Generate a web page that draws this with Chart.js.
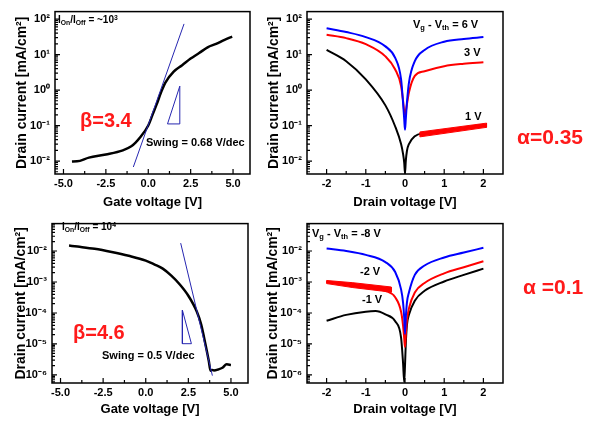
<!DOCTYPE html>
<html><head><meta charset="utf-8">
<script src="https://cdn.jsdelivr.net/npm/chart.js@4.4.1/dist/chart.umd.min.js"></script>
<style>
html,body{margin:0;padding:0;background:#fff;}
#wrap{position:relative;width:600px;height:424px;overflow:hidden;background:#fff;font-family:"Liberation Sans",Arial,sans-serif;font-weight:bold;}
canvas{position:absolute;}
.t{position:absolute;white-space:nowrap;line-height:1;color:#000;}
.t sub{font-size:0.68em;vertical-align:-0.3em;line-height:0;}
.t sup{font-size:0.68em;vertical-align:0.45em;line-height:0;}
.red{color:#ff1a1a;}
</style></head><body>
<div id="wrap">
<canvas id="cTL" width="260" height="212" style="left:0;top:0"></canvas>
<canvas id="cTR" width="260" height="212" style="left:260px;top:0"></canvas>
<canvas id="cBL" width="260" height="212" style="left:0;top:212px"></canvas>
<canvas id="cBR" width="260" height="212" style="left:260px;top:212px"></canvas>

<div class="t" style="left:58px;top:15px;font-size:10px;">I<sub>On</sub>/I<sub>Off</sub> = ~10<sup>3</sup></div>
<div class="t red" style="left:80px;top:110px;font-size:20px;">β=3.4</div>
<div class="t" style="left:146px;top:137px;font-size:11px;">Swing = 0.68 V/dec</div>

<div class="t" style="left:413px;top:19px;font-size:11px;">V<sub>g</sub> - V<sub>th</sub> = 6 V</div>
<div class="t" style="left:464px;top:47px;font-size:11px;">3 V</div>
<div class="t" style="left:465px;top:111px;font-size:11px;">1 V</div>
<div class="t red" style="left:517px;top:126px;font-size:21px;">α=0.35</div>

<div class="t" style="left:62px;top:222px;font-size:10px;">I<sub>On</sub>/I<sub>Off</sub> = 10<sup>4</sup></div>
<div class="t red" style="left:73px;top:322px;font-size:20px;">β=4.6</div>
<div class="t" style="left:102px;top:350px;font-size:11px;">Swing = 0.5 V/dec</div>

<div class="t" style="left:312px;top:228px;font-size:11px;">V<sub>g</sub> - V<sub>th</sub> = -8 V</div>
<div class="t" style="left:360px;top:266px;font-size:11px;">-2 V</div>
<div class="t" style="left:362px;top:294px;font-size:11px;">-1 V</div>
<div class="t red" style="left:523px;top:276px;font-size:21px;">α =0.1</div>
</div>
<script>
// ---------- Data ----------
// Top-left: transfer curve
const tlGateV   = [-4.5,-4.2,-3.5,-2.5,-1.5,-1.0,-0.75,-0.5,0,0.25,0.5,0.75,1.0,1.5,2.0,2.5,3.0,3.5,4.0,4.5,4.95];
const tlCurrent = [0.0097,0.0098,0.0125,0.0153,0.02,0.026,0.033,0.045,0.1,0.2,0.4,0.85,1.6,3.3,5.0,7.7,11,16,20,26,32];
const tlFitV    = [-0.88, 2.11];
const tlFitI    = [0.0068, 73];
const tlTriV    = [1.135, 1.86, 1.86, 1.135];
const tlTriI    = [0.111, 0.111, 1.29, 0.111];

// Top-right: output curves
const trDrainV  = [-2,-1.5,-1,-0.5,-0.25,-0.1,-0.05,-0.02,0,0.02,0.05,0.1,0.25,0.5,1,1.5,2];
const tr6V      = [55,43,31,17,8,2,0.45,0.15,0.076,0.15,0.45,1.6,6.5,13.5,23,27.5,31];
const tr3V      = [36,29,19.6,8.9,3.8,1.3,0.5,0.25,0.2,0.25,0.4,0.85,2.5,3.4,4.7,5.5,6.1];
const tr1V      = [13.5,6.5,2.0,0.37,0.094,0.03,0.016,0.009,0.0045,0.01,0.0195,0.03,0.05,0.062,0.073,0.087,0.105];
const trBandV   = [0.38, 2.08, 2.08, 0.38, 0.38];
const trBandI   = [0.066, 0.117, 0.089, 0.048, 0.066];

// Bottom-left: transfer curve
const blGateV   = [-4.5,-4,-3,-2,-1,0,0.5,1,1.5,2,2.5,3,3.25,3.5,3.7,3.8,3.9,4.0,4.25,4.5,4.75,5.0];
const blCurrent = [0.015,0.0139,0.0118,0.0093,0.007,0.0049,0.0037,0.0027,0.0016,0.00083,0.00036,0.00011,4.3e-5,1.0e-5,2.8e-6,1.36e-6,1.45e-6,1.4e-6,1.5e-6,1.7e-6,2.2e-6,2.1e-6];
const blFitV    = [2.05, 3.91];
const blFitI    = [0.018, 9.5e-7];
const blTriV    = [2.15, 2.15, 2.68, 2.15];
const blTriI    = [1.24e-4, 1.02e-5, 1.02e-5, 1.24e-4];

// Bottom-right: output curves
const brDrainV  = [-2,-1.5,-1,-0.5,-0.25,-0.1,-0.05,-0.02,0,0.02,0.05,0.1,0.25,0.5,1,1.5,2];
const brM8V     = [0.012,0.01,0.0075,0.0044,0.0021,0.00058,0.00022,0.00007,0.000021,0.00007,0.00022,0.00046,0.0017,0.0034,0.0062,0.0089,0.0127];
const brM2V     = [0.001,0.00088,0.00074,0.00052,0.00032,0.00011,0.00004,0.000015,0.000008,0.00002,0.00006,0.00014,0.00046,0.00093,0.0019,0.003,0.0047];
const brM1DrainV= [-2,-1.5,-1,-0.75,-0.5,-0.25,-0.1,-0.05,-0.02,0,0.02,0.05,0.1,0.25,0.5,1,1.5,2];
const brM1V     = [5.6e-5,8.7e-5,1.1e-4,1.15e-4,9e-5,5.4e-5,1.6e-5,2.5e-6,5.9e-7,2e-6,1e-5,4.2e-5,8.7e-5,2.5e-4,5.2e-4,1.04e-3,1.7e-3,2.7e-3];
const brBandV   = [-2, -1.33, -0.35, -0.35, -1.33, -2, -2];
const brBandI   = [1.12e-3, 9.5e-4, 6.9e-4, 4.7e-4, 6.6e-4, 8.9e-4, 1.12e-3];

// Ticks
const gateTicks      = [-5, -2.5, 0, 2.5, 5];
const gateTickLabels = ['-5.0', '-2.5', '0.0', '2.5', '5.0'];
const drainTicks      = [-2, -1, 0, 1, 2];
const drainTickLabels = ['-2', '-1', '0', '1', '2'];
const topYTicks      = [1e-2, 1e-1, 1, 10, 100];
const topYTickLabels = ['10⁻²', '10⁻¹', '10⁰', '10¹', '10²'];
const botYTicks      = [1e-6, 1e-5, 1e-4, 1e-3, 1e-2];
const botYTickLabels = ['10⁻⁶', '10⁻⁵', '10⁻⁴', '10⁻³', '10⁻²'];

// ---------- Rendering ----------
const FONT = '"Liberation Sans", Arial, sans-serif';
function xy(xs, ys){ return xs.map((x,i)=>({x:x, y:ys[i]})); }
function line(xs, ys, color, width, extra){
  return Object.assign({data: xy(xs, ys), borderColor: color, backgroundColor: color,
    borderWidth: width, pointRadius: 0, fill: false, tension: 0}, extra || {});
}

const framePlugin = {
  id: 'frame',
  afterDraw(chart){
    const ctx = chart.ctx, a = chart.chartArea, x = chart.scales.x, y = chart.scales.y;
    ctx.save();
    ctx.strokeStyle = '#000';
    ctx.lineWidth = 1.2;
    ctx.beginPath();
    const xt = x.ticks.map(t=>t.value);
    const xm = [];
    for (let i=0;i<xt.length-1;i++) xm.push((xt[i]+xt[i+1])/2);
    xt.forEach(v=>{const p=x.getPixelForValue(v); ctx.moveTo(p,a.bottom); ctx.lineTo(p,a.bottom-5);});
    xm.forEach(v=>{const p=x.getPixelForValue(v); ctx.moveTo(p,a.bottom); ctx.lineTo(p,a.bottom-3);});
    const yt = y.ticks.map(t=>t.value);
    yt.forEach(v=>{const p=y.getPixelForValue(v); ctx.moveTo(a.left,p); ctx.lineTo(a.left+5,p);});
    const d0 = yt[0]/10, d1 = yt[yt.length-1];
    for (let d=d0; d<=d1*1.0001; d*=10){
      for (let m=2;m<=9;m++){
        const v = d*m;
        if (v>y.min && v<y.max){ const p=y.getPixelForValue(v); ctx.moveTo(a.left,p); ctx.lineTo(a.left+3,p); }
      }
    }
    ctx.stroke();
    ctx.lineWidth = 1.5;
    ctx.strokeRect(a.left, a.top, a.right-a.left, a.bottom-a.top);
    ctx.restore();
  }
};

function buildChart(id, o){
  return new Chart(document.getElementById(id), {
    type: 'line',
    data: {datasets: o.datasets},
    options: {
      responsive: false, animation: false, devicePixelRatio: 1,
      layout: {padding: o.pad},
      plugins: {legend: {display: false}, tooltip: {enabled: false}},
      elements: {point: {radius: 0}},
      scales: {
        x: {
          type: 'linear', min: o.xMin, max: o.xMax,
          afterBuildTicks: s=>{ s.ticks = o.xTicks.map(v=>({value:v})); },
          afterFit: s=>{ s.height = o.xH; },
          grid: {display: false, drawTicks: false, tickLength: 0}, border: {display: false},
          ticks: {font: {family: FONT, size: 11, weight: 'bold'}, color: '#000', padding: 3,
                  maxRotation: 0, autoSkip: false, callback: (v,i)=>o.xLabels[i]},
          title: {display: true, text: o.xTitle, color: '#000',
                  font: {family: FONT, size: 13, weight: 'bold'}, padding: {top: 0, bottom: o.xTitlePad}}
        },
        y: {
          type: 'logarithmic', min: o.yMin, max: o.yMax,
          afterBuildTicks: s=>{ s.ticks = o.yTicks.map(v=>({value:v})); },
          afterFit: s=>{ s.width = o.yW; },
          grid: {display: false, drawTicks: false, tickLength: 0}, border: {display: false},
          ticks: {font: {family: FONT, size: 11, weight: 'bold'}, color: '#000', padding: 5,
                  autoSkip: false, callback: (v,i)=>o.yLabels[i]},
          title: {display: true, text: 'Drain current [mA/cm²]', color: '#000',
                  font: {family: FONT, size: 14, weight: 'bold'}, padding: {top: 4, bottom: 0}}
        }
      }
    },
    plugins: [framePlugin]
  });
}

const FIT = '#2626b0';
const smooth = {cubicInterpolationMode: 'monotone'};

buildChart('cTL', {
  pad: {left: 10, top: 7, right: 10, bottom: 0}, yW: 45, xH: 38, xTitlePad: 2,
  xMin: -5.5, xMax: 6, yMin: Math.pow(10,-2.365), yMax: Math.pow(10,2.21),
  xTicks: gateTicks, xLabels: gateTickLabels, yTicks: topYTicks, yLabels: topYTickLabels,
  xTitle: 'Gate voltage [V]',
  datasets: [
    line(tlFitV, tlFitI, FIT, 1),
    line(tlTriV, tlTriI, FIT, 1),
    line(tlGateV, tlCurrent, '#000', 2.5, smooth)
  ]
});

buildChart('cTR', {
  pad: {left: 2, top: 7, right: 17, bottom: 0}, yW: 45, xH: 38, xTitlePad: 2,
  xMin: -2.5, xMax: 2.5, yMin: Math.pow(10,-2.365), yMax: Math.pow(10,2.21),
  xTicks: drainTicks, xLabels: drainTickLabels, yTicks: topYTicks, yLabels: topYTickLabels,
  xTitle: 'Drain voltage [V]',
  datasets: [
    line(trBandV, trBandI, '#ff0000', 1, {fill: 'shape'}),
    line(trDrainV, tr6V, '#0000ff', 2, smooth),
    line(trDrainV, tr3V, '#ff0000', 2, smooth),
    line(trDrainV, tr1V, '#000', 2, smooth)
  ]
});

buildChart('cBL', {
  pad: {left: 9, top: 5, right: 12, bottom: 0}, yW: 43, xH: 41, xTitlePad: 7,
  xMin: -5.5, xMax: 6, yMin: Math.pow(10,-6.26), yMax: Math.pow(10,-1.115),
  xTicks: gateTicks, xLabels: gateTickLabels, yTicks: botYTicks, yLabels: botYTickLabels,
  xTitle: 'Gate voltage [V]',
  datasets: [
    line(blFitV, blFitI, FIT, 1),
    line(blTriV, blTriI, FIT, 1),
    line(blGateV, blCurrent, '#000', 2.5, smooth)
  ]
});

buildChart('cBR', {
  pad: {left: 1, top: 5, right: 17, bottom: 0}, yW: 46, xH: 41, xTitlePad: 7,
  xMin: -2.5, xMax: 2.5, yMin: Math.pow(10,-6.26), yMax: Math.pow(10,-1.115),
  xTicks: drainTicks, xLabels: drainTickLabels, yTicks: botYTicks, yLabels: botYTickLabels,
  xTitle: 'Drain voltage [V]',
  datasets: [
    line(brBandV, brBandI, '#ff0000', 1, {fill: 'shape'}),
    line(brDrainV, brM8V, '#0000ff', 2, smooth),
    line(brDrainV, brM2V, '#ff0000', 2, smooth),
    line(brM1DrainV, brM1V, '#000', 2, smooth)
  ]
});
</script>
</body></html>
